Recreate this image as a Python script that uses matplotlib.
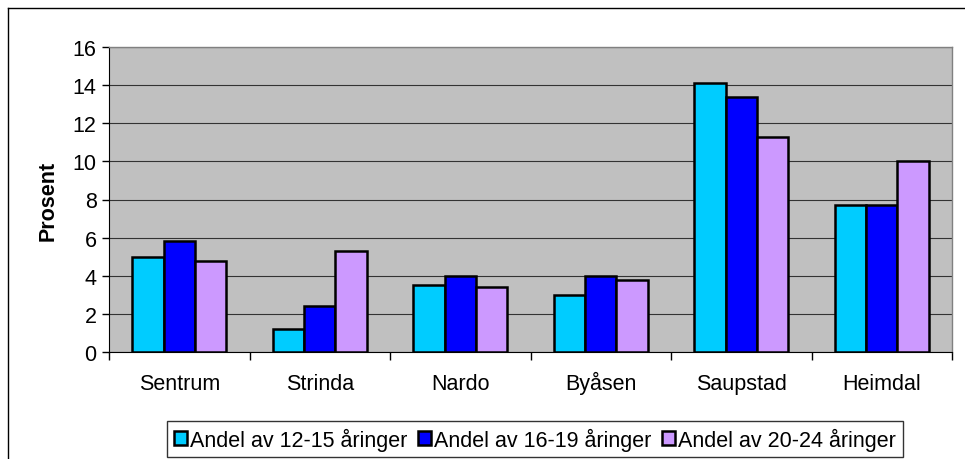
import matplotlib
matplotlib.use("Agg")
import matplotlib.pyplot as plt
import numpy as np
from matplotlib.patches import Patch
from matplotlib.lines import Line2D

categories = ["Sentrum", "Strinda", "Nardo", "Byåsen", "Saupstad", "Heimdal"]
series_names = ["Andel av 12-15 åringer", "Andel av 16-19 åringer", "Andel av 20-24 åringer"]
v1215 = [5.0, 1.2, 3.5, 3.0, 14.1, 7.7]
v1619 = [5.8, 2.4, 4.0, 4.0, 13.4, 7.7]
v2024 = [4.8, 5.3, 3.4, 3.8, 11.3, 10.0]
colors = ["#00CCFF", "#0000FF", "#CC99FF"]
yticks = [0, 2, 4, 6, 8, 10, 12, 14, 16]

plt.rcParams['font.family'] = ['Liberation Sans', 'DejaVu Sans']
FS = 15.5

W, H = 965, 460
fig = plt.figure(figsize=(W/100, H/100), dpi=100)
ax = fig.add_axes([109/W, 1-353/H, (952-109)/W, (353-48)/H])
ax.set_facecolor("#C0C0C0")

x = np.arange(len(categories))
bw = 1/4.5
for i, vals in enumerate([v1215, v1619, v2024]):
    ax.bar(x + (i-1)*bw, vals, width=bw, color=colors[i], edgecolor="black",
           linewidth=1.8, zorder=3)

ax.set_xlim(-0.5, len(categories)-0.5)
ax.set_ylim(0, 16)
ax.set_yticks(yticks)
ax.set_yticklabels([str(t) for t in yticks], fontsize=FS)
ax.yaxis.grid(True, color="#333333", linewidth=0.8, zorder=1)
ax.tick_params(axis='y', direction='out', length=5, width=1, pad=4)

ax.set_xticks(x)
ax.set_xticklabels(categories, fontsize=FS, va='baseline')
ax.tick_params(axis='x', length=0, pad=27)
ax.set_xticks(np.arange(-0.5, len(categories), 1), minor=True)
ax.tick_params(axis='x', which='minor', direction='out', length=6, width=1)

for s in ['top', 'right']:
    ax.spines[s].set_color("#808080")
    ax.spines[s].set_linewidth(1)
ax.spines['left'].set_color("black")
ax.spines['bottom'].set_color("black")

ax.set_ylabel("Prosent", fontsize=FS, fontweight='bold', labelpad=10)

handles = [Patch(facecolor=c, edgecolor="black", linewidth=1.8) for c in colors]
leg = fig.legend(handles, series_names, loc='center', bbox_to_anchor=(535/W, 1-440/H),
                 ncol=3, fontsize=FS, frameon=True, fancybox=False, edgecolor="black",
                 handlelength=0.6, handleheight=0.6, handletextpad=0.15, columnspacing=0.5,
                 borderpad=0.3, borderaxespad=0)
leg.get_frame().set_linewidth(1)

# outer chart border (left and top visible)
fig.add_artist(Line2D([8/W, 8/W], [0, 1-9/H], color="black", linewidth=1, transform=fig.transFigure))
fig.add_artist(Line2D([8/W, 1], [1-9/H, 1-9/H], color="black", linewidth=1, transform=fig.transFigure))

fig.savefig("out.png", dpi=100)
